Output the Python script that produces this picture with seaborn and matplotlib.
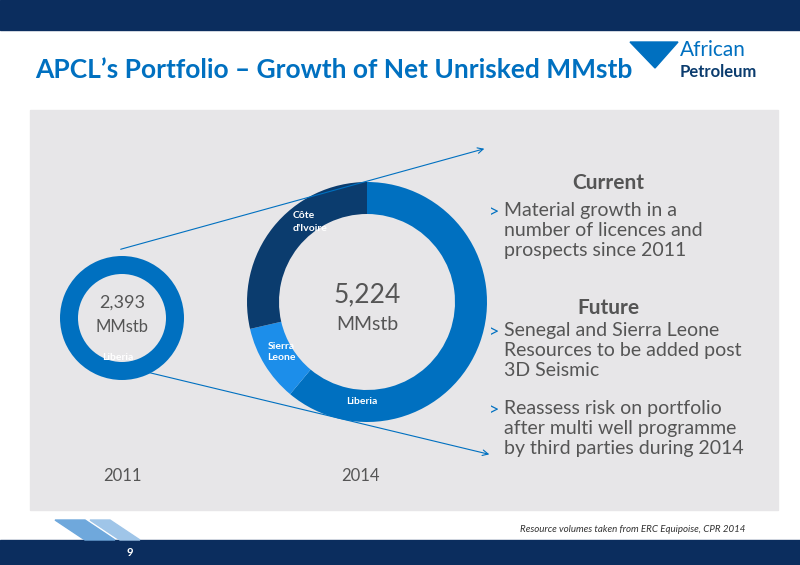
import matplotlib
matplotlib.use("Agg")
import matplotlib.pyplot as plt
import seaborn as sns
from matplotlib.patches import Rectangle, Polygon, FancyArrowPatch

sns.set_theme(style="white")
plt.rcParams['font.family'] = ['Lato', 'DejaVu Sans']

segments_2014 = ["Liberia", "Sierra\nLeone", "Côte\nd'Ivoire"]
values_2014 = [3190, 540, 1494]
colors_2014 = ["#0070C0", "#1C8EEA", "#0B3C6E"]
segments_2011 = ["Liberia"]
values_2011 = [2393]
total_2011 = "2,393"
total_2014 = "5,224"
years = ["2011", "2014"]

H = 565
def Y(y): return H - y

fig = plt.figure(figsize=(8, 5.65), dpi=100)
ax = fig.add_axes([0, 0, 1, 1])

navy = "#0B2D5E"
ax.add_patch(Rectangle((0, Y(30)), 800, 30, color=navy, zorder=0))
ax.add_patch(Rectangle((0, 0), 800, 25, color=navy, zorder=0))
ax.add_patch(Polygon([(55, Y(520)), (85, Y(520)), (115, 25), (85, 25)], color="#6FA8DC", zorder=1))
ax.add_patch(Polygon([(90, Y(520)), (110, Y(520)), (140, 25), (120, 25)], color="#9FC5E8", zorder=1))
ax.text(130, 13, "9", color="white", fontsize=8, ha='center', va='center', fontweight='bold')
ax.add_patch(Rectangle((30, Y(510)), 748, 400, color="#E7E6E8", zorder=0))

ax.text(35, Y(70), "APCL’s Portfolio – Growth of Net Unrisked MMstb", color="#0070C0",
        fontsize=19, fontweight='bold', va='center')
ax.text(680, Y(50), "African", color="#0070C0", fontsize=15, va='center')
ax.text(680, Y(72), "Petroleum", color="#0B3C6E", fontsize=12, fontweight='bold', va='center')
ax.add_patch(Polygon([(630, Y(42)), (678, Y(42)), (655, Y(68))], color="#0070C0"))

ax.pie(values_2011, colors=["#0070C0"], center=(122, Y(318)), radius=62,
       wedgeprops=dict(width=18, edgecolor='none'), startangle=90, frame=True)
ax.text(122, Y(303), total_2011, fontsize=13, color="#555555", ha='center', va='center')
ax.text(122, Y(327), "MMstb", fontsize=12, color="#555555", ha='center', va='center')
ax.text(118, Y(357), segments_2011[0], fontsize=7.5, color="white", fontweight='bold', ha='center', va='center')

ax.pie(values_2014, colors=colors_2014, center=(367, Y(302)), radius=120,
       wedgeprops=dict(width=32, edgecolor='none'), startangle=90, counterclock=False, frame=True)
ax.set_xlim(0, 800); ax.set_ylim(0, H); ax.set_aspect('equal'); ax.axis('off')
ax.text(367, Y(295), total_2014, fontsize=19, color="#555555", ha='center', va='center')
ax.text(367, Y(325), "MMstb", fontsize=14, color="#555555", ha='center', va='center')
ax.text(362, Y(402), segments_2014[0], fontsize=7.5, color="white", fontweight='bold', ha='center', va='center')
ax.text(281, Y(352), segments_2014[1], fontsize=7.5, color="white", fontweight='bold', ha='center', va='center', linespacing=1.3)
ax.text(293, Y(222), segments_2014[2], fontsize=7.5, color="white", fontweight='bold', ha='left', va='center', linespacing=1.6)

for x, t in zip([122, 360], years):
    ax.text(x, Y(476), t, fontsize=12, color="#555555", ha='center', va='center')

for (x0, y0), (x1, y1) in [((118, 250), (487, 148)), ((130, 368), (492, 455))]:
    ax.add_patch(FancyArrowPatch((x0, Y(y0)), (x1, Y(y1)), arrowstyle='->', mutation_scale=10,
                                 color="#0070C0", lw=0.8))

grey = "#555555"
ax.text(608, Y(183), "Current", fontsize=15, fontweight='bold', color=grey, ha='center', va='center')
ax.text(608, Y(308), "Future", fontsize=15, fontweight='bold', color=grey, ha='center', va='center')
bullets = [(212, "Material growth in a\nnumber of licences and\nprospects since 2011"),
           (332, "Senegal and Sierra Leone\nResources to be added post\n3D Seismic"),
           (410, "Reassess risk on portfolio\nafter multi well programme\nby third parties during 2014")]
for y, t in bullets:
    ax.text(489, Y(y), ">", fontsize=13, color="#0070C0", va='center')
    ax.text(504, Y(y - 10), t, fontsize=14, color=grey, va='top', linespacing=1.2)

ax.text(745, Y(530), "Resource volumes taken from ERC Equipoise, CPR 2014", fontsize=7,
        style='italic', color="#333333", ha='right', va='center')

fig.savefig("out.png", dpi=100)
